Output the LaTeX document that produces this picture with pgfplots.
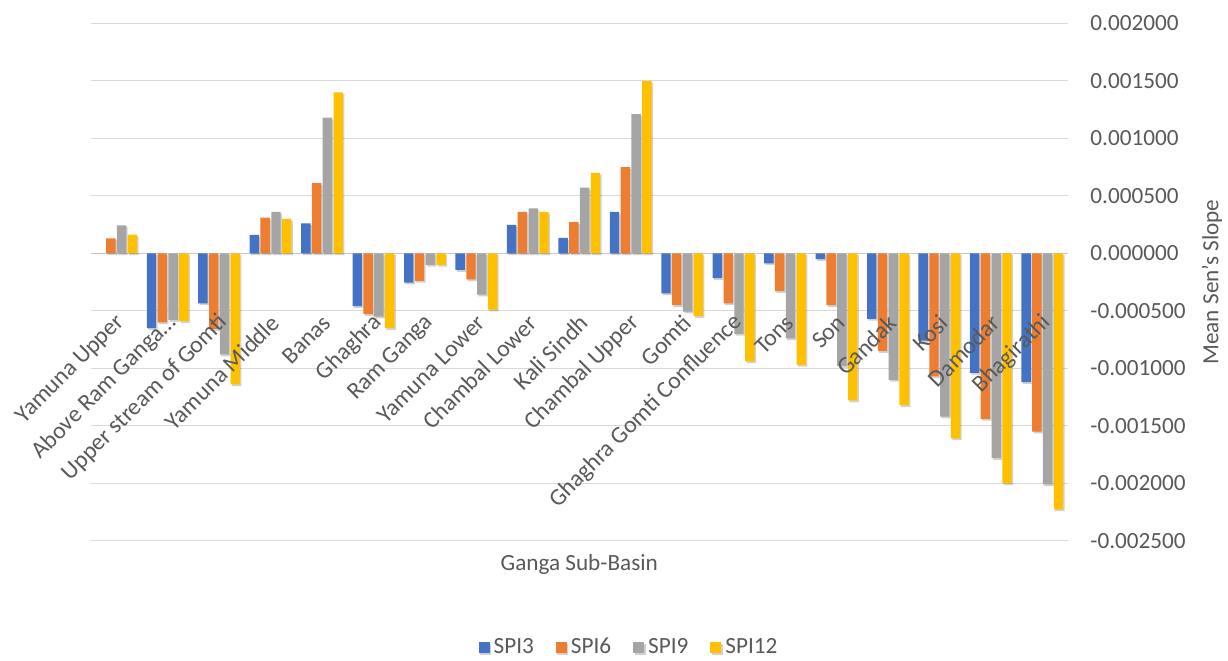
\documentclass[border=0pt]{standalone}
\usepackage{fontspec}
\setmainfont{Carlito}
\usepackage{pgfplots}
\pgfplotsset{compat=1.18}
\usepackage{pgfplotstable}
\usetikzlibrary{shadows}

\definecolor{spiA}{HTML}{4472C4}
\definecolor{spiB}{HTML}{ED7D31}
\definecolor{spiC}{HTML}{A5A5A5}
\definecolor{spiD}{HTML}{FFC000}
\definecolor{txt}{HTML}{595959}
\definecolor{gridc}{HTML}{D9D9D9}
\definecolor{zeroc}{HTML}{C8C8C8}

% Mean Sen's slope of SPI at four time scales, per Ganga sub-basin
\pgfplotstableread{
idx spi3      spi6      spi9      spi12
0    0.000000  0.000130  0.000243  0.000162
1   -0.000650 -0.000600 -0.000580 -0.000590
2   -0.000435 -0.000658 -0.000880 -0.001140
3    0.000160  0.000310  0.000360  0.000300
4    0.000260  0.000610  0.001180  0.001400
5   -0.000460 -0.000530 -0.000550 -0.000650
6   -0.000255 -0.000240 -0.000100 -0.000100
7   -0.000145 -0.000226 -0.000360 -0.000490
8    0.000246  0.000360  0.000390  0.000360
9    0.000134  0.000270  0.000570  0.000700
10   0.000360  0.000750  0.001210  0.001500
11  -0.000348 -0.000450 -0.000507 -0.000545
12  -0.000217 -0.000435 -0.000700 -0.000940
13  -0.000087 -0.000330 -0.000740 -0.000970
14  -0.000050 -0.000450 -0.000980 -0.001280
15  -0.000570 -0.000850 -0.001100 -0.001320
16  -0.000760 -0.001070 -0.001420 -0.001610
17  -0.001040 -0.001440 -0.001780 -0.002000
18  -0.001120 -0.001550 -0.002010 -0.002226
}\slopes

\pgfplotsset{
  sqlegend/.style={legend image code/.code={\fill[##1,draw=none] (0pt,-2.75pt) rectangle (5.5pt,2.75pt);}},
  % category names are written over the bars
  layers/labels over bars/.define layer set={
    axis background,axis grid,axis ticks,axis lines,pre main,main,
    axis tick labels,axis descriptions,axis foreground}{/pgfplots/layers/standard},
  soft bar/.style={draw=none, fill=#1,
    drop shadow={shadow xshift=0.7pt, shadow yshift=-0.9pt, opacity=0.18, fill=black}},
}

\begin{document}
\fontsize{11.6}{14}\selectfont
\begin{tikzpicture}
\begin{axis}[
  name=ax,
  set layers=labels over bars,
  scale only axis,
  width=488.75pt, height=258.75pt,
  xmin=-0.5, xmax=18.5,
  ymin=-0.0025, ymax=0.002,
  ybar=0.7pt, bar width=4.7pt,
  axis x line*=middle, axis y line*=right,
  x axis line style={draw=zeroc, line width=0.7pt},
  y axis line style={draw=none},
  hide obscured x ticks=false, hide obscured y ticks=false,
  tick style={draw=none},
  xtick={0,1,2,3,4,5,6,7,8,9,10,11,12,13,14,15,16,17,18},
  xticklabels={Yamuna Upper, {Above Ram Ganga\ldots}, Upper stream of Gomti, Yamuna Middle, Banas, Ghaghra, Ram Ganga, Yamuna Lower, Chambal Lower, Kali Sindh, Chambal Upper, Gomti, Ghaghra Gomti Confluence, Tons, Son, Gandak, Kosi, Damodar, Bhagirathi},
  xticklabel style={text=txt, font=\fontsize{11.9}{14}\selectfont, inner sep=0pt,
    xshift=2.5pt, yshift=-28.5pt, rotate=45, anchor=east},
  ytick={-0.0025,-0.002,-0.0015,-0.001,-0.0005,0,0.0005,0.001,0.0015,0.002},
  scaled y ticks=false,
  yticklabel style={text=txt, inner sep=0pt, anchor=west, xshift=11pt,
    /pgf/number format/.cd, fixed, fixed zerofill, precision=6, assume math mode=true},
  ymajorgrids,
  grid style={draw=gridc, line width=0.7pt},
  xlabel={Ganga Sub-Basin},
  xlabel style={text=txt, at={(axis description cs:0.5,0)}, anchor=center, yshift=-12pt},
  ylabel={Mean Sen's Slope},
  ylabel style={text=txt, at={([xshift=72pt]axis description cs:1,0.5)}, anchor=center},
  legend style={at={([yshift=-53.5pt]axis description cs:0.552,0)}, anchor=center,
    draw=none, fill=none, text=txt, legend columns=4,
    /tikz/every even column/.append style={column sep=9pt},
    /tikz/every odd column/.append style={column sep=0pt}},
  every axis plot post/.append style={sqlegend},
]
\addplot[soft bar=spiA] table[x=idx, y=spi3]{\slopes};
\addplot[soft bar=spiB] table[x=idx, y=spi6]{\slopes};
\addplot[soft bar=spiC] table[x=idx, y=spi9]{\slopes};
\addplot[soft bar=spiD] table[x=idx, y=spi12]{\slopes};
\legend{SPI3, SPI6, SPI9, SPI12}
\end{axis}
\pgfresetboundingbox
\path[use as bounding box] ([shift={(-45.25pt,-60.1pt)}]ax.south west) rectangle ([shift={(80pt,11.65pt)}]ax.north east);
\end{tikzpicture}
\end{document}
